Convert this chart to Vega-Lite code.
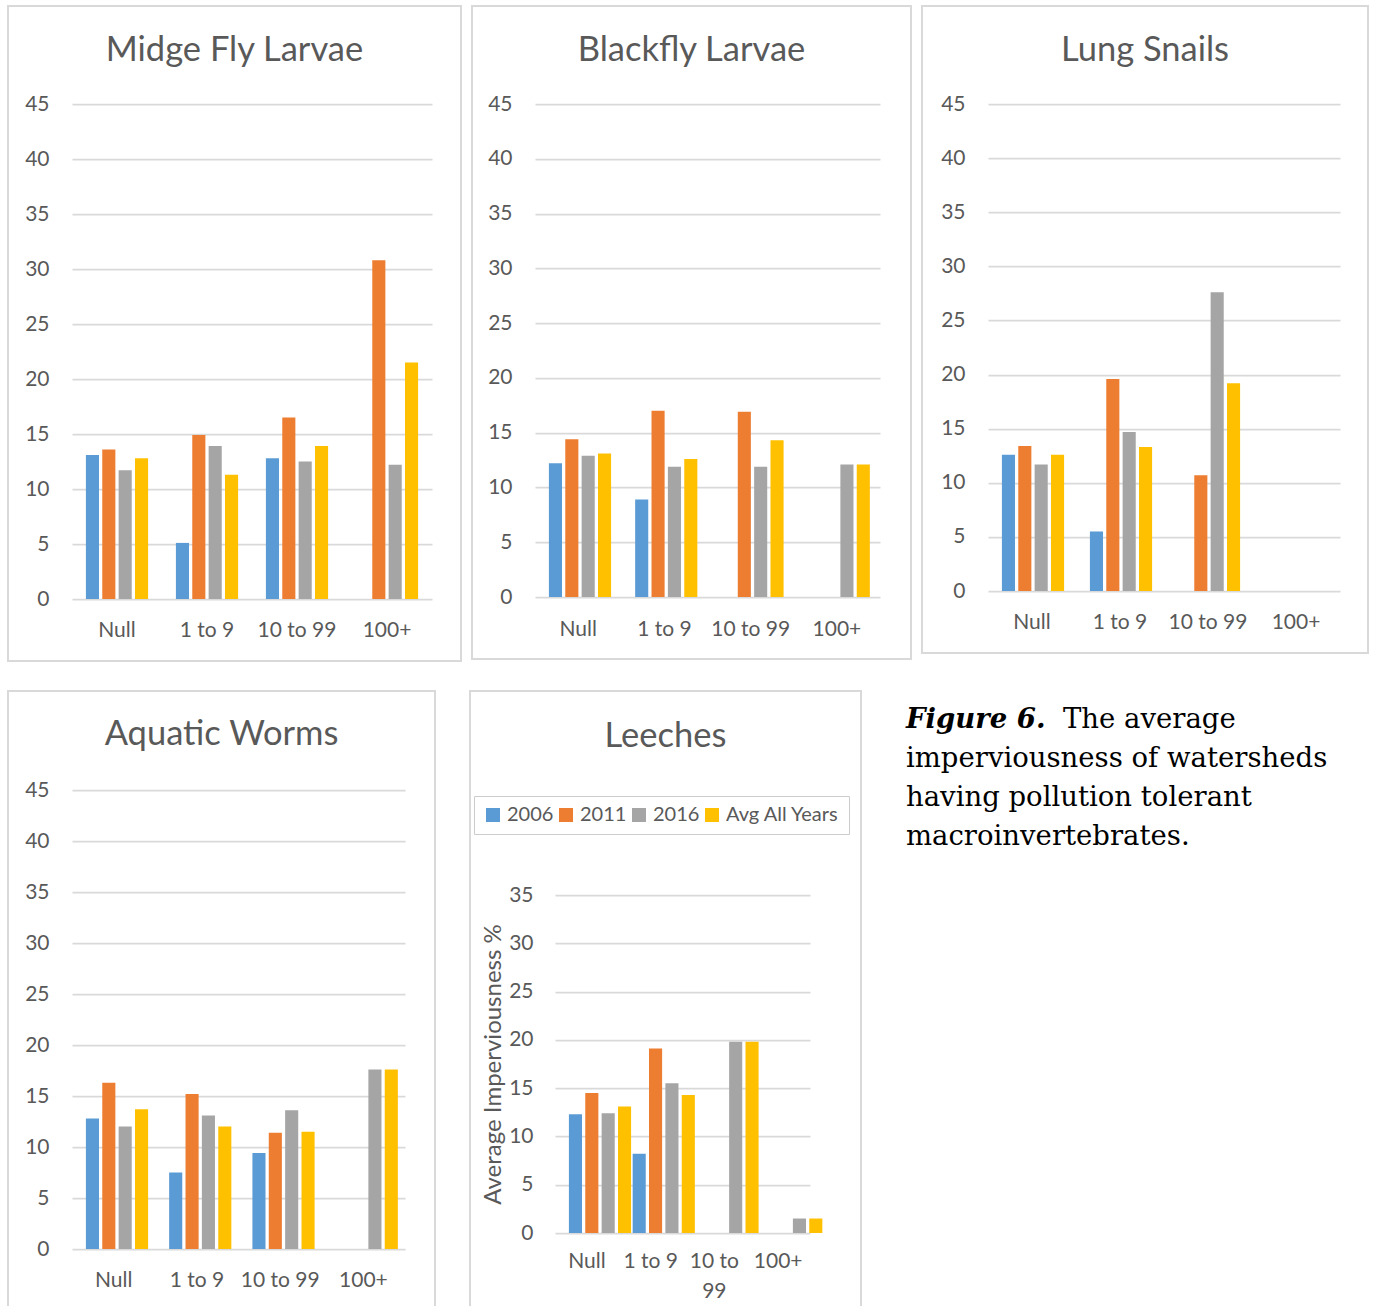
{
  "$schema": "https://vega.github.io/schema/vega-lite/v6.json",
  "background": "white",
  "padding": {"left": 7, "top": 5, "right": 0, "bottom": 0},
  "autosize": {"type": "pad"},
  "datasets": {
    "bars": [
      {"taxon": "Midge Fly Larvae", "size": "Null", "year": "2006", "pct": 13.1},
      {"taxon": "Midge Fly Larvae", "size": "Null", "year": "2011", "pct": 13.6},
      {"taxon": "Midge Fly Larvae", "size": "Null", "year": "2016", "pct": 11.7},
      {"taxon": "Midge Fly Larvae", "size": "Null", "year": "Avg All Years", "pct": 12.8},
      {"taxon": "Midge Fly Larvae", "size": "1 to 9", "year": "2006", "pct": 5.1},
      {"taxon": "Midge Fly Larvae", "size": "1 to 9", "year": "2011", "pct": 14.9},
      {"taxon": "Midge Fly Larvae", "size": "1 to 9", "year": "2016", "pct": 13.9},
      {"taxon": "Midge Fly Larvae", "size": "1 to 9", "year": "Avg All Years", "pct": 11.3},
      {"taxon": "Midge Fly Larvae", "size": "10 to 99", "year": "2006", "pct": 12.8},
      {"taxon": "Midge Fly Larvae", "size": "10 to 99", "year": "2011", "pct": 16.5},
      {"taxon": "Midge Fly Larvae", "size": "10 to 99", "year": "2016", "pct": 12.5},
      {"taxon": "Midge Fly Larvae", "size": "10 to 99", "year": "Avg All Years", "pct": 13.9},
      {"taxon": "Midge Fly Larvae", "size": "100+", "year": "2011", "pct": 30.8},
      {"taxon": "Midge Fly Larvae", "size": "100+", "year": "2016", "pct": 12.2},
      {"taxon": "Midge Fly Larvae", "size": "100+", "year": "Avg All Years", "pct": 21.5},

      {"taxon": "Blackfly Larvae", "size": "Null", "year": "2006", "pct": 12.2},
      {"taxon": "Blackfly Larvae", "size": "Null", "year": "2011", "pct": 14.4},
      {"taxon": "Blackfly Larvae", "size": "Null", "year": "2016", "pct": 12.9},
      {"taxon": "Blackfly Larvae", "size": "Null", "year": "Avg All Years", "pct": 13.1},
      {"taxon": "Blackfly Larvae", "size": "1 to 9", "year": "2006", "pct": 8.9},
      {"taxon": "Blackfly Larvae", "size": "1 to 9", "year": "2011", "pct": 17.0},
      {"taxon": "Blackfly Larvae", "size": "1 to 9", "year": "2016", "pct": 11.9},
      {"taxon": "Blackfly Larvae", "size": "1 to 9", "year": "Avg All Years", "pct": 12.6},
      {"taxon": "Blackfly Larvae", "size": "10 to 99", "year": "2011", "pct": 16.9},
      {"taxon": "Blackfly Larvae", "size": "10 to 99", "year": "2016", "pct": 11.9},
      {"taxon": "Blackfly Larvae", "size": "10 to 99", "year": "Avg All Years", "pct": 14.3},
      {"taxon": "Blackfly Larvae", "size": "100+", "year": "2016", "pct": 12.1},
      {"taxon": "Blackfly Larvae", "size": "100+", "year": "Avg All Years", "pct": 12.1},

      {"taxon": "Lung Snails", "size": "Null", "year": "2006", "pct": 12.6},
      {"taxon": "Lung Snails", "size": "Null", "year": "2011", "pct": 13.4},
      {"taxon": "Lung Snails", "size": "Null", "year": "2016", "pct": 11.7},
      {"taxon": "Lung Snails", "size": "Null", "year": "Avg All Years", "pct": 12.6},
      {"taxon": "Lung Snails", "size": "1 to 9", "year": "2006", "pct": 5.5},
      {"taxon": "Lung Snails", "size": "1 to 9", "year": "2011", "pct": 19.6},
      {"taxon": "Lung Snails", "size": "1 to 9", "year": "2016", "pct": 14.7},
      {"taxon": "Lung Snails", "size": "1 to 9", "year": "Avg All Years", "pct": 13.3},
      {"taxon": "Lung Snails", "size": "10 to 99", "year": "2011", "pct": 10.7},
      {"taxon": "Lung Snails", "size": "10 to 99", "year": "2016", "pct": 27.6},
      {"taxon": "Lung Snails", "size": "10 to 99", "year": "Avg All Years", "pct": 19.2},

      {"taxon": "Aquatic Worms", "size": "Null", "year": "2006", "pct": 12.8},
      {"taxon": "Aquatic Worms", "size": "Null", "year": "2011", "pct": 16.3},
      {"taxon": "Aquatic Worms", "size": "Null", "year": "2016", "pct": 12.0},
      {"taxon": "Aquatic Worms", "size": "Null", "year": "Avg All Years", "pct": 13.7},
      {"taxon": "Aquatic Worms", "size": "1 to 9", "year": "2006", "pct": 7.5},
      {"taxon": "Aquatic Worms", "size": "1 to 9", "year": "2011", "pct": 15.2},
      {"taxon": "Aquatic Worms", "size": "1 to 9", "year": "2016", "pct": 13.1},
      {"taxon": "Aquatic Worms", "size": "1 to 9", "year": "Avg All Years", "pct": 12.0},
      {"taxon": "Aquatic Worms", "size": "10 to 99", "year": "2006", "pct": 9.4},
      {"taxon": "Aquatic Worms", "size": "10 to 99", "year": "2011", "pct": 11.4},
      {"taxon": "Aquatic Worms", "size": "10 to 99", "year": "2016", "pct": 13.6},
      {"taxon": "Aquatic Worms", "size": "10 to 99", "year": "Avg All Years", "pct": 11.5},
      {"taxon": "Aquatic Worms", "size": "100+", "year": "2016", "pct": 17.6},
      {"taxon": "Aquatic Worms", "size": "100+", "year": "Avg All Years", "pct": 17.6},

      {"taxon": "Leeches", "size": "Null", "year": "2006", "pct": 12.3},
      {"taxon": "Leeches", "size": "Null", "year": "2011", "pct": 14.5},
      {"taxon": "Leeches", "size": "Null", "year": "2016", "pct": 12.4},
      {"taxon": "Leeches", "size": "Null", "year": "Avg All Years", "pct": 13.1},
      {"taxon": "Leeches", "size": "1 to 9", "year": "2006", "pct": 8.2},
      {"taxon": "Leeches", "size": "1 to 9", "year": "2011", "pct": 19.1},
      {"taxon": "Leeches", "size": "1 to 9", "year": "2016", "pct": 15.5},
      {"taxon": "Leeches", "size": "1 to 9", "year": "Avg All Years", "pct": 14.3},
      {"taxon": "Leeches", "size": "10 to 99", "year": "2016", "pct": 19.8},
      {"taxon": "Leeches", "size": "10 to 99", "year": "Avg All Years", "pct": 19.8},
      {"taxon": "Leeches", "size": "100+", "year": "2016", "pct": 1.5},
      {"taxon": "Leeches", "size": "100+", "year": "Avg All Years", "pct": 1.5}
    ],
    "caption": [
      {"line": 1, "part": "label", "text": "Figure 6."},
      {"line": 1, "part": "lead", "text": "The average"},
      {"line": 2, "part": "body", "text": "imperviousness of watersheds"},
      {"line": 3, "part": "body", "text": "having pollution tolerant"},
      {"line": 4, "part": "body", "text": "macroinvertebrates."}
    ]
  },
  "spacing": 28,
  "resolve": {"scale": {"color": "independent"}, "legend": {"color": "independent"}},
  "vconcat": [
    {
      "spacing": 9,
      "resolve": {"scale": {"color": "independent"}, "legend": {"color": "independent"}},
      "hconcat": [
        {
          "width": 453, "height": 655,
          "title": {"text": "Midge Fly Larvae", "offset": -62},
          "data": {"name": "bars"},
          "transform": [{"filter": "datum.taxon === 'Midge Fly Larvae'"}],
          "mark": {"type": "bar"},
          "encoding": {
            "x": {"field": "size", "type": "nominal", "title": null,
                  "scale": {"domain": ["Null", "1 to 9", "10 to 99", "100+"], "range": [64, 424], "paddingInner": 0, "paddingOuter": 0},
                  "axis": {"offset": -31}},
            "xOffset": {"field": "year", "type": "nominal",
                        "scale": {"domain": ["2006", "2011", "2016", "Avg All Years"], "paddingInner": 0.2, "paddingOuter": 0.85}},
            "y": {"field": "pct", "type": "quantitative", "title": null,
                  "scale": {"domain": [0, 45], "range": [593, 98]},
                  "axis": {"offset": -41, "values": [0, 5, 10, 15, 20, 25, 30, 35, 40, 45]}},
            "color": {"field": "year", "type": "nominal", "legend": null,
                      "scale": {"domain": ["2006", "2011", "2016", "Avg All Years"], "range": ["#5B9BD5", "#ED7D31", "#A5A5A5", "#FFC000"]}}
          }
        },
        {
          "width": 439, "height": 653,
          "title": {"text": "Blackfly Larvae", "offset": -62},
          "data": {"name": "bars"},
          "transform": [{"filter": "datum.taxon === 'Blackfly Larvae'"}],
          "mark": {"type": "bar"},
          "encoding": {
            "x": {"field": "size", "type": "nominal", "title": null,
                  "scale": {"domain": ["Null", "1 to 9", "10 to 99", "100+"], "range": [63, 408], "paddingInner": 0, "paddingOuter": 0},
                  "axis": {"offset": -30}},
            "xOffset": {"field": "year", "type": "nominal",
                        "scale": {"domain": ["2006", "2011", "2016", "Avg All Years"], "paddingInner": 0.2, "paddingOuter": 0.85}},
            "y": {"field": "pct", "type": "quantitative", "title": null,
                  "scale": {"domain": [0, 45], "range": [591, 98]},
                  "axis": {"offset": -40, "values": [0, 5, 10, 15, 20, 25, 30, 35, 40, 45]}},
            "color": {"field": "year", "type": "nominal", "legend": null,
                      "scale": {"domain": ["2006", "2011", "2016", "Avg All Years"], "range": ["#5B9BD5", "#ED7D31", "#A5A5A5", "#FFC000"]}}
          }
        },
        {
          "width": 446, "height": 647,
          "title": {"text": "Lung Snails", "offset": -62},
          "data": {"name": "bars"},
          "transform": [{"filter": "datum.taxon === 'Lung Snails'"}],
          "mark": {"type": "bar"},
          "encoding": {
            "x": {"field": "size", "type": "nominal", "title": null,
                  "scale": {"domain": ["Null", "1 to 9", "10 to 99", "100+"], "range": [66, 418], "paddingInner": 0, "paddingOuter": 0},
                  "axis": {"offset": -31}},
            "xOffset": {"field": "year", "type": "nominal",
                        "scale": {"domain": ["2006", "2011", "2016", "Avg All Years"], "paddingInner": 0.2, "paddingOuter": 0.85}},
            "y": {"field": "pct", "type": "quantitative", "title": null,
                  "scale": {"domain": [0, 45], "range": [585, 98]},
                  "axis": {"offset": -43, "values": [0, 5, 10, 15, 20, 25, 30, 35, 40, 45]}},
            "color": {"field": "year", "type": "nominal", "legend": null,
                      "scale": {"domain": ["2006", "2011", "2016", "Avg All Years"], "range": ["#5B9BD5", "#ED7D31", "#A5A5A5", "#FFC000"]}}
          }
        }
      ]
    },
    {
      "spacing": 33,
      "resolve": {"scale": {"color": "independent"}, "legend": {"color": "independent"}},
      "hconcat": [
        {
          "width": 427, "height": 617,
          "title": {"text": "Aquatic Worms", "offset": -61},
          "data": {"name": "bars"},
          "transform": [{"filter": "datum.taxon === 'Aquatic Worms'"}],
          "mark": {"type": "bar"},
          "encoding": {
            "x": {"field": "size", "type": "nominal", "title": null,
                  "scale": {"domain": ["Null", "1 to 9", "10 to 99", "100+"], "range": [64, 397], "paddingInner": 0, "paddingOuter": 0},
                  "axis": {"offset": -28}},
            "xOffset": {"field": "year", "type": "nominal",
                        "scale": {"domain": ["2006", "2011", "2016", "Avg All Years"], "paddingInner": 0.2, "paddingOuter": 0.85}},
            "y": {"field": "pct", "type": "quantitative", "title": null,
                  "scale": {"domain": [0, 45], "range": [558, 99]},
                  "axis": {"offset": -41, "values": [0, 5, 10, 15, 20, 25, 30, 35, 40, 45]}},
            "color": {"field": "year", "type": "nominal", "legend": null,
                      "scale": {"domain": ["2006", "2011", "2016", "Avg All Years"], "range": ["#5B9BD5", "#ED7D31", "#A5A5A5", "#FFC000"]}}
          }
        },
        {
          "width": 391, "height": 617,
          "title": {"text": "Leeches", "offset": -63},
          "data": {"name": "bars"},
          "transform": [{"filter": "datum.taxon === 'Leeches'"}],
          "mark": {"type": "bar"},
          "encoding": {
            "x": {"field": "size", "type": "nominal", "title": null,
                  "scale": {"domain": ["Null", "1 to 9", "10 to 99", "100+"], "range": [85, 340], "paddingInner": 0, "paddingOuter": 0},
                  "axis": {"offset": -58, "labelBaseline": "top", "labelLineHeight": 30,
                           "labelExpr": "datum.value === '10 to 99' ? ['10 to', '99'] : datum.value"}},
            "xOffset": {"field": "year", "type": "nominal",
                        "scale": {"domain": ["2006", "2011", "2016", "Avg All Years"], "paddingInner": 0.2, "paddingOuter": 0.85}},
            "y": {"field": "pct", "type": "quantitative", "title": "Average Imperviousness %",
                  "scale": {"domain": [0, 35], "range": [542, 204]},
                  "axis": {"offset": -63, "values": [0, 5, 10, 15, 20, 25, 30, 35], "titlePadding": 3, "titleFontSize": 24}},
            "color": {"field": "year", "type": "nominal",
                      "scale": {"domain": ["2006", "2011", "2016", "Avg All Years"], "range": ["#5B9BD5", "#ED7D31", "#A5A5A5", "#FFC000"]},
                      "legend": {"title": null, "orient": "none", "legendX": 4, "legendY": 105, "direction": "horizontal",
                                 "symbolType": "square", "symbolSize": 196, "symbolStrokeWidth": 0, "symbolOpacity": 1,
                                 "labelFont": "Lato", "labelFontSize": 20, "labelColor": "#595959", "labelOffset": 4, "labelLimit": 0,
                                 "columnPadding": 2, "padding": 9, "strokeColor": "#cccccc"}}
          }
        },
        {
          "width": 440, "height": 175,
          "view": {"stroke": null},
          "data": {"name": "caption"},
          "encoding": {
            "y": {"field": "line", "type": "ordinal", "axis": null,
                  "scale": {"type": "point", "domain": [1, 2, 3, 4], "padding": 0.744}},
            "x": {"value": 0},
            "text": {"field": "text"}
          },
          "layer": [
            {"transform": [{"filter": "datum.part === 'label'"}],
             "mark": {"type": "text", "font": "DejaVu Serif", "fontSize": 27.5, "fontWeight": "bold", "fontStyle": "italic", "align": "left", "baseline": "middle", "dx": 11, "color": "#000000"}},
            {"transform": [{"filter": "datum.part === 'lead'"}],
             "mark": {"type": "text", "font": "DejaVu Serif", "fontSize": 27.5, "align": "left", "baseline": "middle", "dx": 168, "color": "#000000"}},
            {"transform": [{"filter": "datum.part === 'body'"}],
             "mark": {"type": "text", "font": "DejaVu Serif", "fontSize": 27.5, "align": "left", "baseline": "middle", "dx": 11, "color": "#000000"}}
          ]
        }
      ]
    }
  ],
  "config": {
    "view": {"stroke": "#d9d9d9", "strokeWidth": 2},
    "title": {"font": "Lato", "fontSize": 34.5, "fontWeight": "normal", "color": "#595959", "baseline": "middle", "anchor": "middle", "frame": "group"},
    "axis": {"labelFont": "Lato", "labelFontSize": 21, "labelColor": "#595959", "domain": false, "ticks": false, "tickSize": 0, "labelPadding": 0,
             "titleFont": "Lato", "titleFontSize": 20, "titleFontWeight": "normal", "titleColor": "#595959"},
    "axisX": {"grid": false, "labelAngle": 0, "labelBaseline": "middle"},
    "axisY": {"grid": true, "gridColor": "#d9d9d9", "gridWidth": 1.75}
  }
}
